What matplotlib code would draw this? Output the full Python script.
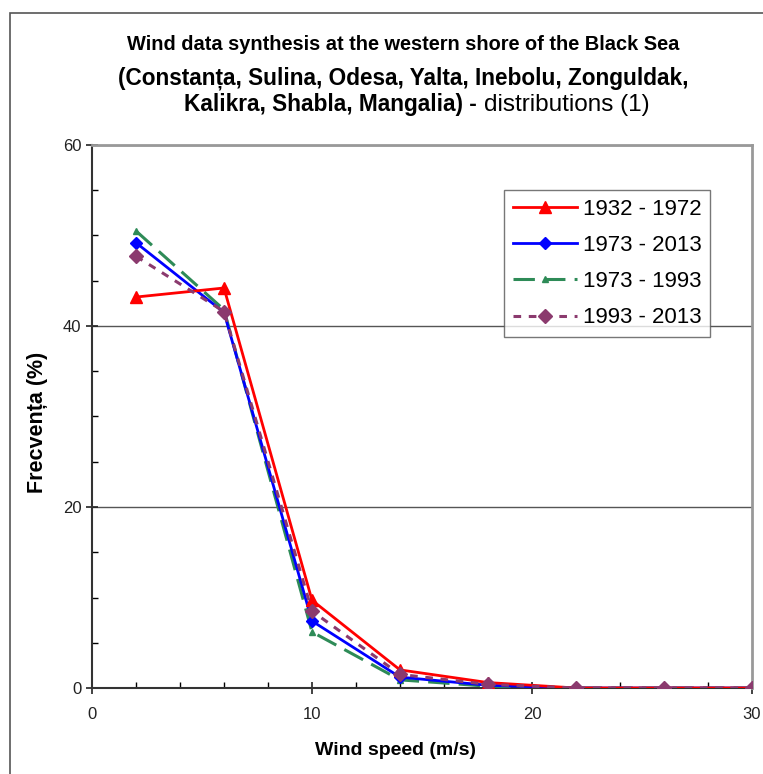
import numpy as np
import matplotlib
matplotlib.use("Agg")
import matplotlib.pyplot as plt
from matplotlib.patches import Rectangle
from matplotlib.ticker import MultipleLocator

plt.rcParams['font.family'] = ['Liberation Sans', 'DejaVu Sans']

# viteza vantului (m/s) si frecventele (%)
viteza = [2, 6, 10, 14, 18, 22, 26, 30]
f_1932_1972 = [43.2, 44.2, 9.7, 2.0, 0.6, 0.0, 0.0, 0.0]
f_1973_2013 = [49.2, 41.5, 7.4, 1.2, 0.3, 0.0, 0.0, 0.0]
f_1973_1993 = [50.5, 41.8, 6.2, 0.9, 0.2, 0.0, 0.0, 0.0]
f_1993_2013 = [47.7, 41.6, 8.5, 1.5, 0.4, 0.0, 0.0, 0.0]
etichete = ['1932 - 1972', '1973 - 2013', '1973 - 1993', '1993 - 2013']

W, H = 763, 774
fig = plt.figure(figsize=(W / 100, H / 100), dpi=100)
ax = fig.add_axes([92 / W, 1 - 688 / H, (752 - 92) / W, (688 - 145) / H])

# ramă exterioară
fig.patches.append(Rectangle((10 / W, -0.1), 1.2, (H - 13) / H + 0.1,
                             transform=fig.transFigure, fill=False,
                             edgecolor='#555555', lw=1.2, zorder=-5))

ax.plot(viteza, f_1932_1972, color='red', lw=2, marker='^', ms=8,
        label=etichete[0], zorder=5)
ax.plot(viteza, f_1973_2013, color='blue', lw=2, marker='D', ms=6,
        label=etichete[1], zorder=4)
ax.plot(viteza, f_1973_1993, color='#2e8b57', lw=2.2, ls=(0, (7, 3)),
        marker='^', ms=5, label=etichete[2], zorder=3)
ax.plot(viteza, f_1993_2013, color='#8b3a6e', lw=2.2, ls=(0, (2.5, 2.5)),
        marker='D', ms=7, label=etichete[3], zorder=6)

ax.set_xlim(0, 30)
ax.set_ylim(0, 60)
ax.xaxis.set_major_locator(MultipleLocator(10))
ax.xaxis.set_minor_locator(MultipleLocator(2))
ax.yaxis.set_major_locator(MultipleLocator(20))
ax.yaxis.set_minor_locator(MultipleLocator(5))
ax.tick_params(which='major', direction='inout', length=8, width=1.2,
               labelsize=12, colors='#222222')
ax.tick_params(which='minor', direction='in', length=4, width=1)
ax.tick_params(axis='x', pad=10)
ax.grid(axis='y', which='major', color='#555555', lw=1)

for s in ['left', 'bottom']:
    ax.spines[s].set_color('#333333')
    ax.spines[s].set_linewidth(1.5)
for s in ['top', 'right']:
    ax.spines[s].set_color('#999999')
    ax.spines[s].set_linewidth(2)

ax.set_xlabel('Wind speed (m/s)', fontsize=14, fontweight='bold')
ax.xaxis.set_label_coords(0.46, -0.1)
ax.set_ylabel('Frecvența (%)', fontsize=15.5, fontweight='bold')
ax.yaxis.set_label_coords(-0.066, 0.49)

leg = ax.legend(loc='upper right', bbox_to_anchor=(0.937, 0.917), fontsize=16,
                frameon=True, fancybox=False, edgecolor='#555555',
                handlelength=2.9, borderpad=0.4, labelspacing=0.68,
                handletextpad=0.25, borderaxespad=0)
leg.get_frame().set_linewidth(1)

fig.text(0.528, 1 - 45 / H, 'Wind data synthesis at the western shore of the Black Sea',
         ha='center', va='center', fontsize=14.4, fontweight='bold')
fig.text(0.528, 1 - 78 / H, '(Constanța, Sulina, Odesa, Yalta, Inebolu, Zonguldak,',
         ha='center', va='center', fontsize=16.3, fontweight='bold')
fig.text(477 / W, 1 - 105 / H, 'Kalikra, Shabla, Mangalia) -',
         ha='right', va='center', fontsize=16.3, fontweight='bold')
fig.text(484 / W, 1 - 105 / H, 'distributions (1)',
         ha='left', va='center', fontsize=17.5)

fig.savefig('out.png', dpi=100)
